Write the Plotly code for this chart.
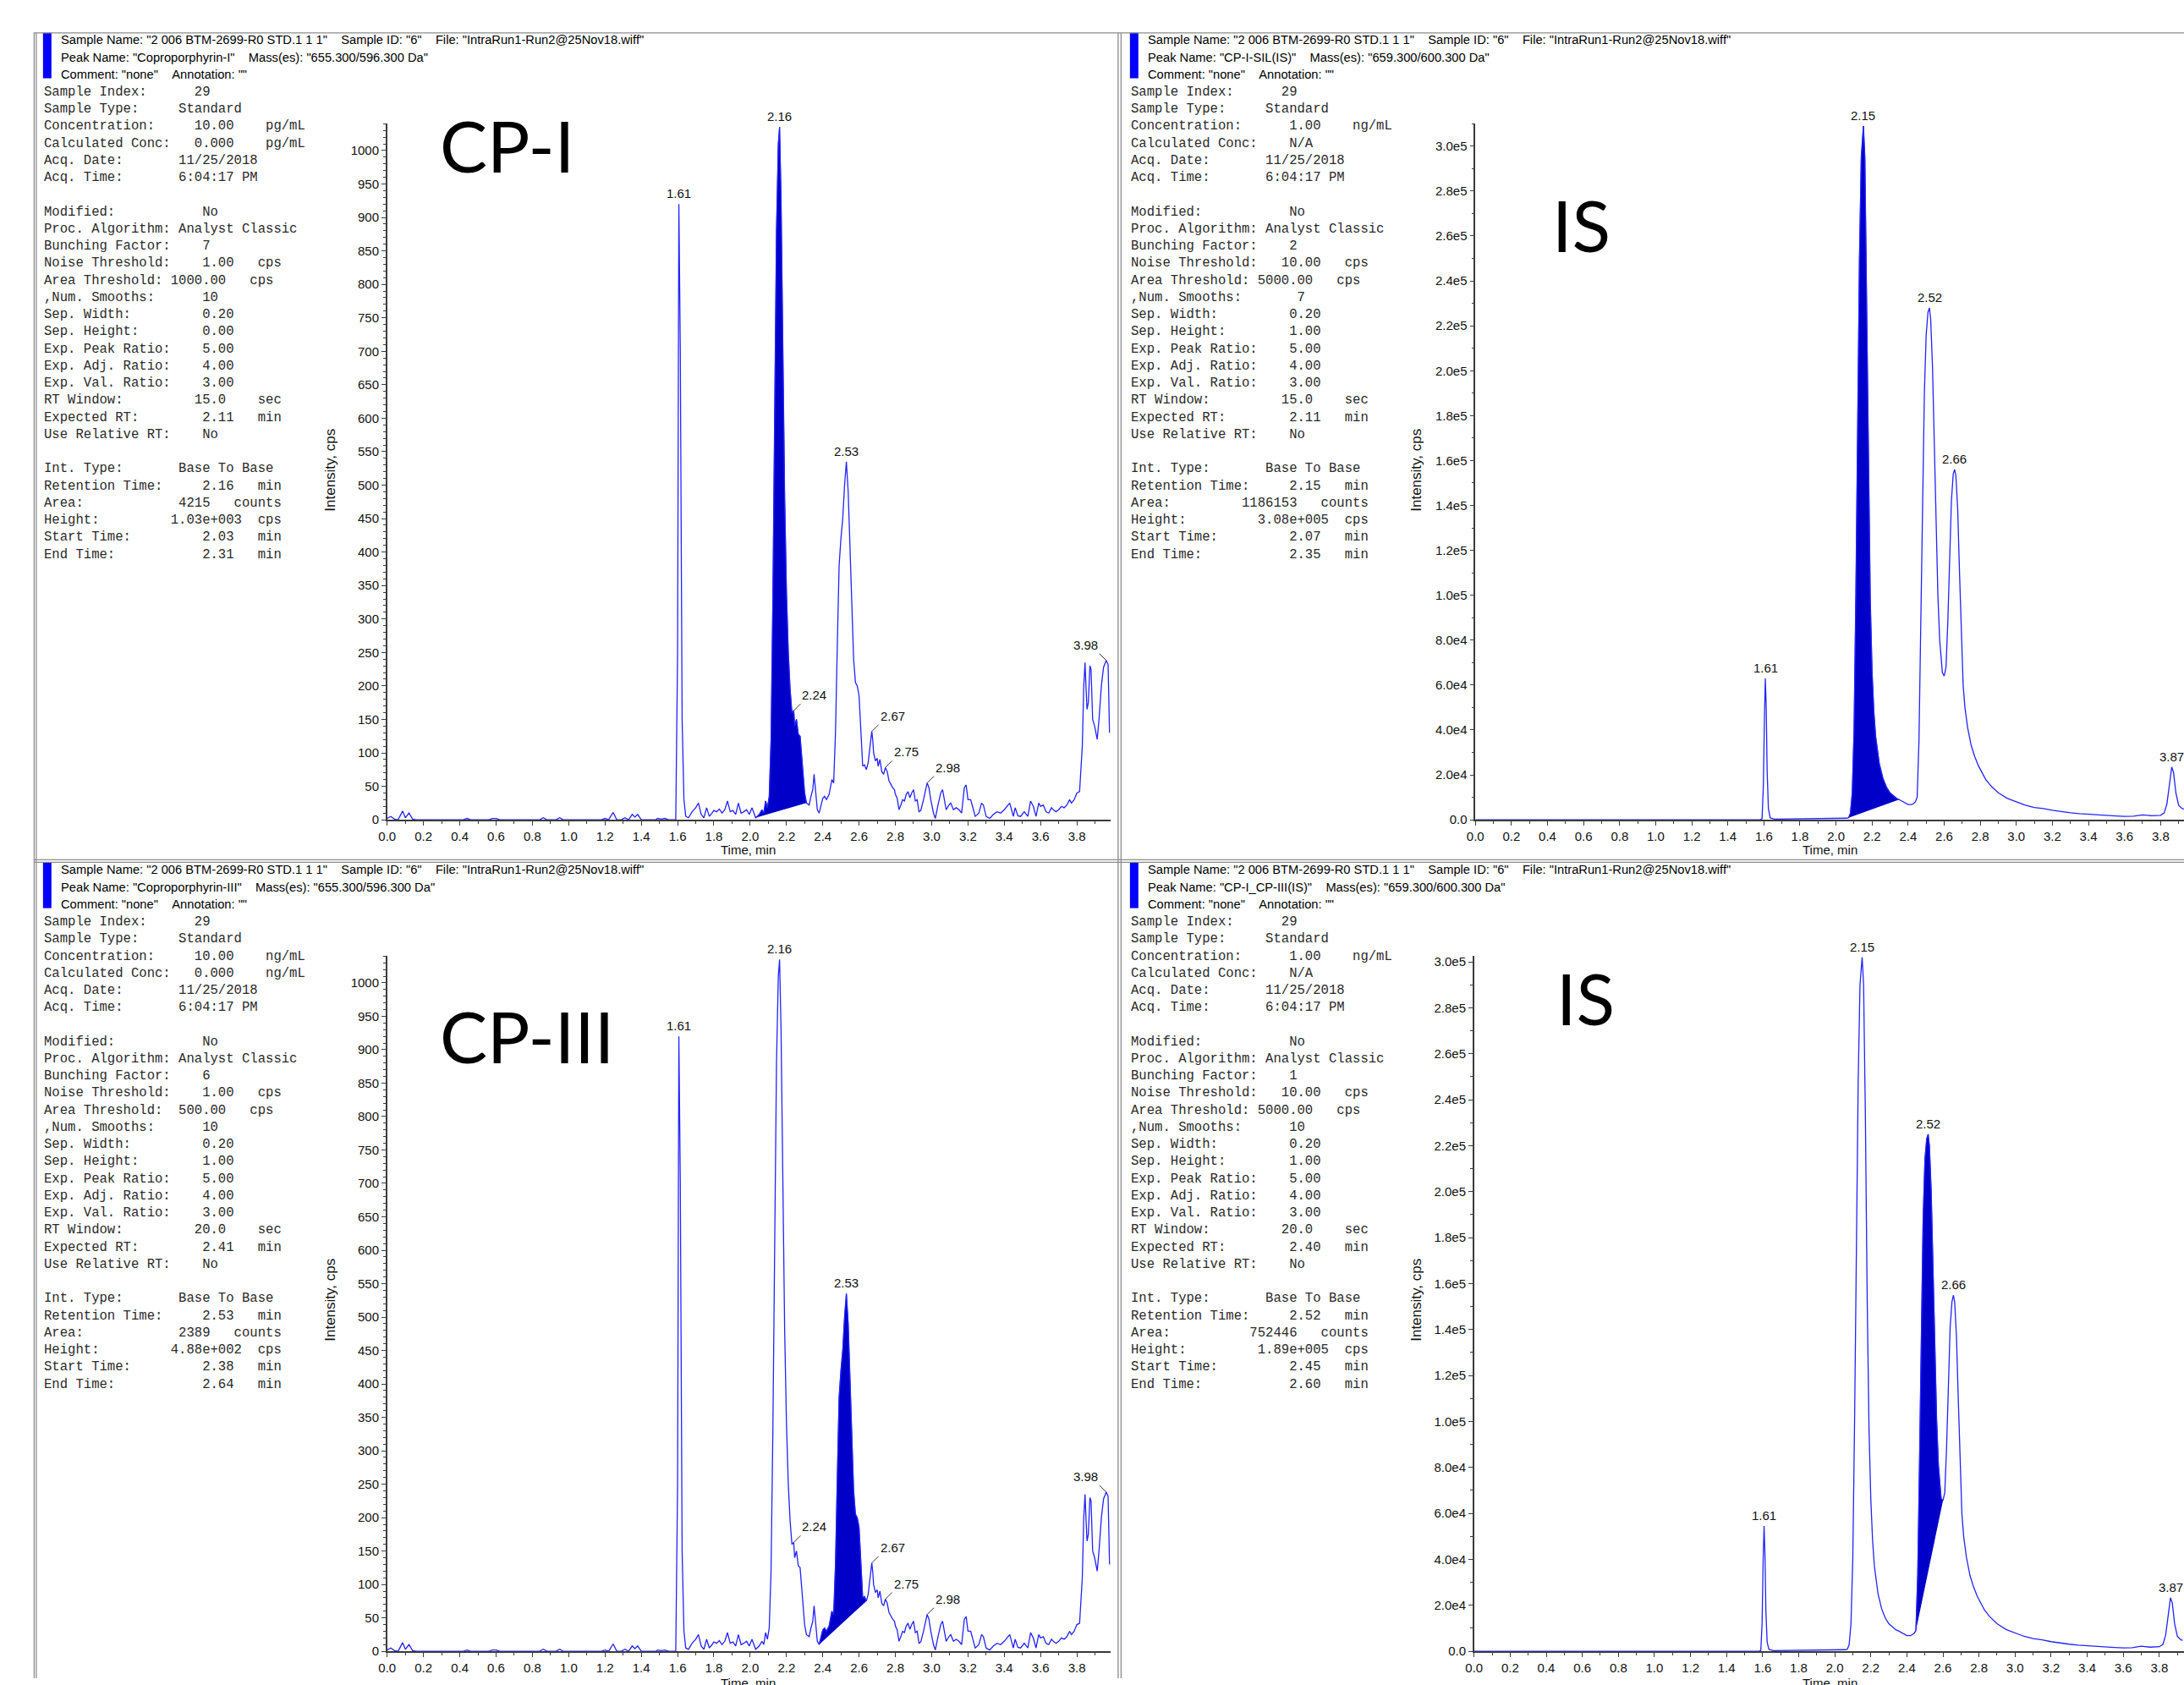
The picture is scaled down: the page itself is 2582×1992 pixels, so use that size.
import plotly.graph_objects as go

W, H = 2582, 1992

# ---------------------------------------------------------------- data
# Coproporphyrin transition 655.3/596.3 (same chromatogram used for CP-I and CP-III panels)
CP_TRACE = [
    (0.00, 2), (0.02, 5), (0.04, 1), (0.06, 0), (0.085, 13), (0.10, 3), (0.12, 10), (0.14, 1), (0.16, 0),
    (0.42, 0), (0.44, 2), (0.46, 0), (0.56, 0), (0.58, 2), (0.60, 2), (0.62, 0), (0.84, 0), (0.86, 3),
    (0.88, 0), (0.93, 0), (0.95, 3), (0.97, 0), (1.18, 0), (1.20, 2), (1.22, 0), (1.245, 11), (1.265, 0),
    (1.29, 0), (1.31, 3), (1.33, 0), (1.35, 8), (1.365, 4), (1.38, 8), (1.40, 0), (1.48, 0), (1.49, 2),
    (1.51, 1), (1.53, 2), (1.55, 0), (1.59, 0), (1.60, 250), (1.607, 920), (1.615, 700), (1.625, 150),
    (1.635, 30), (1.645, 5), (1.66, 3), (1.68, 12), (1.70, 18), (1.715, 25), (1.73, 8), (1.745, 3),
    (1.76, 18), (1.775, 5), (1.79, 10), (1.80, 14), (1.815, 12), (1.83, 16), (1.845, 10), (1.86, 15),
    (1.875, 28), (1.89, 12), (1.905, 14), (1.92, 8), (1.935, 25), (1.95, 10), (1.965, 12), (1.98, 15),
    (1.995, 8), (2.01, 18), (2.03, 3), (2.05, 8), (2.065, 15), (2.075, 10), (2.085, 28), (2.095, 18),
    (2.105, 35), (2.115, 120), (2.125, 330), (2.135, 620), (2.145, 880), (2.155, 1010), (2.162, 1035),
    (2.17, 930), (2.18, 700), (2.19, 480), (2.20, 340), (2.21, 250), (2.22, 195), (2.23, 160), (2.24, 163),
    (2.245, 140), (2.255, 150), (2.265, 128), (2.275, 125), (2.285, 90), (2.295, 55), (2.30, 40), (2.31, 25),
    (2.325, 22), (2.335, 35), (2.345, 45), (2.352, 68), (2.36, 45), (2.37, 15), (2.38, 10), (2.39, 22),
    (2.40, 32), (2.41, 35), (2.42, 30), (2.435, 38), (2.45, 60), (2.46, 55), (2.47, 130), (2.48, 260),
    (2.49, 380), (2.50, 420), (2.51, 450), (2.52, 500), (2.53, 535), (2.54, 490), (2.55, 400), (2.56, 300),
    (2.57, 240), (2.58, 205), (2.59, 200), (2.60, 185), (2.61, 130), (2.62, 80), (2.63, 82), (2.64, 75),
    (2.65, 85), (2.66, 110), (2.67, 132), (2.675, 120), (2.68, 100), (2.69, 88), (2.70, 92), (2.705, 80),
    (2.715, 90), (2.725, 72), (2.735, 68), (2.745, 78), (2.755, 72), (2.765, 58), (2.775, 52), (2.785, 48),
    (2.795, 45), (2.80, 38), (2.81, 32), (2.82, 15), (2.83, 22), (2.84, 30), (2.85, 28), (2.86, 38),
    (2.87, 42), (2.88, 33), (2.89, 40), (2.90, 45), (2.91, 28), (2.92, 30), (2.93, 12), (2.94, 14),
    (2.955, 30), (2.975, 55), (2.985, 48), (2.995, 30), (3.01, 10), (3.02, 2), (3.035, 22), (3.05, 40),
    (3.06, 45), (3.07, 30), (3.08, 15), (3.095, 22), (3.105, 25), (3.12, 15), (3.135, 18), (3.15, 15),
    (3.165, 10), (3.18, 48), (3.19, 52), (3.20, 30), (3.215, 30), (3.225, 20), (3.24, 5), (3.26, 10),
    (3.275, 25), (3.285, 22), (3.30, 5), (3.32, 2), (3.34, 8), (3.36, 12), (3.38, 10), (3.40, 15),
    (3.415, 20), (3.43, 25), (3.44, 15), (3.45, 5), (3.46, 18), (3.475, 6), (3.49, 5), (3.51, 12),
    (3.53, 5), (3.545, 28), (3.56, 20), (3.575, 5), (3.59, 25), (3.60, 20), (3.615, 22), (3.63, 12),
    (3.645, 10), (3.66, 18), (3.67, 15), (3.685, 12), (3.70, 15), (3.715, 20), (3.73, 18), (3.745, 22),
    (3.76, 30), (3.77, 25), (3.785, 30), (3.80, 40), (3.815, 42), (3.83, 110), (3.838, 200), (3.845, 235),
    (3.85, 200), (3.856, 165), (3.863, 175), (3.872, 230), (3.878, 225), (3.887, 150), (3.898, 140),
    (3.912, 120), (3.922, 150), (3.935, 200), (3.947, 228), (3.962, 238), (3.972, 232), (3.98, 130),
]

# Internal standard transition 659.3/600.3, processed with bunching 2 / 7 smooths (top right)
IS_A_TRACE = [
    (0.00, 0), (1.58, 0), (1.59, 500), (1.597, 15000), (1.603, 45000), (1.608, 63000), (1.613, 50000),
    (1.618, 22000), (1.625, 5000), (1.635, 800), (1.66, 300), (1.80, 400), (1.90, 500), (2.00, 600),
    (2.06, 700), (2.07, 900), (2.08, 3000), (2.09, 12000), (2.10, 40000), (2.11, 100000), (2.12, 180000),
    (2.13, 250000), (2.14, 295000), (2.152, 309000), (2.16, 295000), (2.17, 235000), (2.18, 155000),
    (2.19, 98000), (2.20, 66000), (2.21, 48000), (2.22, 37000), (2.23, 30000), (2.24, 25000), (2.26, 18500),
    (2.28, 14500), (2.30, 12000), (2.32, 10500), (2.34, 9300), (2.35, 9000), (2.36, 8600), (2.38, 7500),
    (2.40, 6800), (2.42, 6800), (2.43, 7200), (2.44, 8000), (2.45, 10000), (2.46, 35000), (2.47, 85000),
    (2.48, 140000), (2.49, 190000), (2.50, 216000), (2.51, 226000), (2.518, 228000), (2.525, 223000),
    (2.535, 202000), (2.545, 168000), (2.555, 130000), (2.565, 100000), (2.575, 80000), (2.585, 68000),
    (2.59, 65500), (2.60, 64000), (2.61, 68000), (2.62, 88000), (2.63, 118000), (2.64, 142000),
    (2.65, 154000), (2.658, 156000), (2.665, 153000), (2.675, 138000), (2.685, 110000), (2.695, 80000),
    (2.705, 60000), (2.715, 50000), (2.73, 41000), (2.75, 33000), (2.77, 28000), (2.79, 24000),
    (2.81, 21000), (2.83, 18000), (2.86, 15000), (2.90, 12000), (2.95, 9500), (3.00, 8000), (3.05, 6500),
    (3.10, 5500), (3.15, 5000), (3.20, 4200), (3.25, 3600), (3.30, 3100), (3.35, 2700), (3.40, 2400),
    (3.45, 2200), (3.50, 1900), (3.55, 1700), (3.60, 1500), (3.65, 1600), (3.70, 2200), (3.75, 1800),
    (3.80, 2000), (3.82, 3000), (3.835, 7000), (3.85, 16000), (3.862, 23500), (3.872, 21000),
    (3.885, 12000), (3.90, 6500), (3.92, 5000), (3.93, 4800),
]

# Internal standard transition 659.3/600.3, processed with bunching 1 / 10 smooths (bottom right)
IS_B_TRACE = [
    (0.00, 0), (1.58, 0), (1.59, 400), (1.597, 12000), (1.603, 40000), (1.608, 54500), (1.613, 42000),
    (1.618, 18000), (1.625, 4000), (1.635, 800), (1.66, 300), (1.80, 400), (1.90, 500), (2.00, 600),
    (2.06, 700), (2.07, 900), (2.08, 3000), (2.09, 12000), (2.10, 40000), (2.11, 100000), (2.12, 178000),
    (2.13, 248000), (2.14, 290000), (2.152, 302000), (2.16, 290000), (2.17, 232000), (2.18, 153000),
    (2.19, 97000), (2.20, 66000), (2.21, 48000), (2.22, 37000), (2.23, 30000), (2.24, 25000), (2.26, 18500),
    (2.28, 14500), (2.30, 12000), (2.32, 10500), (2.34, 9300), (2.35, 9000), (2.36, 8600), (2.38, 7500),
    (2.40, 6800), (2.42, 6800), (2.43, 7200), (2.44, 7800), (2.45, 9000), (2.46, 33000), (2.47, 82000),
    (2.48, 138000), (2.49, 188000), (2.50, 214000), (2.51, 223000), (2.518, 225000), (2.525, 220000),
    (2.535, 200000), (2.545, 167000), (2.555, 130000), (2.565, 101000), (2.575, 81000), (2.585, 70000),
    (2.59, 66500), (2.60, 65500), (2.61, 69000), (2.62, 88000), (2.63, 117000), (2.64, 141000),
    (2.65, 152000), (2.658, 155000), (2.665, 152000), (2.675, 137000), (2.685, 110000), (2.695, 80000),
    (2.705, 60000), (2.715, 50000), (2.73, 41000), (2.75, 33000), (2.77, 28000), (2.79, 24000),
    (2.81, 21000), (2.83, 18000), (2.86, 15000), (2.90, 12000), (2.95, 9500), (3.00, 8000), (3.05, 6500),
    (3.10, 5500), (3.15, 5000), (3.20, 4200), (3.25, 3600), (3.30, 3100), (3.35, 2700), (3.40, 2400),
    (3.45, 2200), (3.50, 1900), (3.55, 1700), (3.60, 1500), (3.65, 1600), (3.70, 2200), (3.75, 1800),
    (3.80, 2000), (3.82, 3000), (3.835, 7000), (3.85, 16000), (3.862, 23300), (3.872, 21000),
    (3.885, 12000), (3.90, 6500), (3.92, 5000), (3.93, 4800),
]

CP_PEAK_LABELS = ["1.61", "2.16", "2.24", "2.53", "2.67", "2.75", "2.98", "3.98"]
CP_PEAK_TIMES = [1.607, 2.162, 2.24, 2.53, 2.67, 2.745, 2.975, 3.962]
CP_PEAK_LEADERS = [0, 0, 1, 0, 1, 1, 1, -1]
IS_PEAK_LABELS = ["1.61", "2.15", "2.52", "2.66", "3.87"]
IS_PEAK_TIMES = [1.608, 2.152, 2.518, 2.658, 3.862]

X_TICKS = [0.0, 0.2, 0.4, 0.6, 0.8, 1.0, 1.2, 1.4, 1.6, 1.8, 2.0, 2.2, 2.4, 2.6, 2.8, 3.0, 3.2, 3.4, 3.6, 3.8]
X_TICKTEXT = ["0.0", "0.2", "0.4", "0.6", "0.8", "1.0", "1.2", "1.4", "1.6", "1.8",
              "2.0", "2.2", "2.4", "2.6", "2.8", "3.0", "3.2", "3.4", "3.6", "3.8"]
CP_Y_TICKS = [0, 50, 100, 150, 200, 250, 300, 350, 400, 450, 500, 550, 600, 650, 700, 750, 800, 850, 900, 950, 1000]
IS_Y_TICKS = [0, 20000, 40000, 60000, 80000, 100000, 120000, 140000, 160000, 180000, 200000,
              220000, 240000, 260000, 280000, 300000]
IS_Y_TICKTEXT = ["0.0", "2.0e4", "4.0e4", "6.0e4", "8.0e4", "1.0e5", "1.2e5", "1.4e5", "1.6e5", "1.8e5",
                 "2.0e5", "2.2e5", "2.4e5", "2.6e5", "2.8e5", "3.0e5"]

CPI_WINDOW = (2.03, 2.31)
CPIII_WINDOW = (2.38, 2.64)
ISA_WINDOW = (2.07, 2.35)
ISB_WINDOW = (2.45, 2.60)

SAMPLE_LINE = 'Sample Name: "2 006 BTM-2699-R0 STD.1 1 1"    Sample ID: "6"    File: "IntraRun1-Run2@25Nov18.wiff"'
COMMENT_LINE = 'Comment: "none"    Annotation: ""'
PEAK_TL = 'Peak Name: "Coproporphyrin-I"    Mass(es): "655.300/596.300 Da"'
PEAK_TR = 'Peak Name: "CP-I-SIL(IS)"    Mass(es): "659.300/600.300 Da"'
PEAK_BL = 'Peak Name: "Coproporphyrin-III"    Mass(es): "655.300/596.300 Da"'
PEAK_BR = 'Peak Name: "CP-I_CP-III(IS)"    Mass(es): "659.300/600.300 Da"'

INFO_TL = [
    ("Sample Index:", "29", 19), ("Sample Type:", "Standard", 17),
    ("Concentration:", "10.00", 19, "pg/mL", 28), ("Calculated Conc:", "0.000", 19, "pg/mL", 28),
    ("Acq. Date:", "11/25/2018", 17), ("Acq. Time:", "6:04:17 PM", 17), None,
    ("Modified:", "No", 20), ("Proc. Algorithm:", "Analyst Classic", 17), ("Bunching Factor:", "7", 20),
    ("Noise Threshold:", "1.00", 20, "cps", 27), ("Area Threshold:", "1000.00", 16, "cps", 26),
    (",Num. Smooths:", "10", 20), ("Sep. Width:", "0.20", 20), ("Sep. Height:", "0.00", 20),
    ("Exp. Peak Ratio:", "5.00", 20), ("Exp. Adj. Ratio:", "4.00", 20), ("Exp. Val. Ratio:", "3.00", 20),
    ("RT Window:", "15.0", 19, "sec", 27), ("Expected RT:", "2.11", 20, "min", 27),
    ("Use Relative RT:", "No", 20), None,
    ("Int. Type:", "Base To Base", 17), ("Retention Time:", "2.16", 20, "min", 27),
    ("Area:", "4215", 17, "counts", 24), ("Height:", "1.03e+003", 16, "cps", 27),
    ("Start Time:", "2.03", 20, "min", 27), ("End Time:", "2.31", 20, "min", 27),
]
INFO_TR = [
    ("Sample Index:", "29", 19), ("Sample Type:", "Standard", 17),
    ("Concentration:", "1.00", 20, "ng/mL", 28), ("Calculated Conc:", "N/A", 20),
    ("Acq. Date:", "11/25/2018", 17), ("Acq. Time:", "6:04:17 PM", 17), None,
    ("Modified:", "No", 20), ("Proc. Algorithm:", "Analyst Classic", 17), ("Bunching Factor:", "2", 20),
    ("Noise Threshold:", "10.00", 19, "cps", 27), ("Area Threshold:", "5000.00", 16, "cps", 26),
    (",Num. Smooths:", "7", 21), ("Sep. Width:", "0.20", 20), ("Sep. Height:", "1.00", 20),
    ("Exp. Peak Ratio:", "5.00", 20), ("Exp. Adj. Ratio:", "4.00", 20), ("Exp. Val. Ratio:", "3.00", 20),
    ("RT Window:", "15.0", 19, "sec", 27), ("Expected RT:", "2.11", 20, "min", 27),
    ("Use Relative RT:", "No", 20), None,
    ("Int. Type:", "Base To Base", 17), ("Retention Time:", "2.15", 20, "min", 27),
    ("Area:", "1186153", 14, "counts", 24), ("Height:", "3.08e+005", 16, "cps", 27),
    ("Start Time:", "2.07", 20, "min", 27), ("End Time:", "2.35", 20, "min", 27),
]
INFO_BL = [
    ("Sample Index:", "29", 19), ("Sample Type:", "Standard", 17),
    ("Concentration:", "10.00", 19, "ng/mL", 28), ("Calculated Conc:", "0.000", 19, "ng/mL", 28),
    ("Acq. Date:", "11/25/2018", 17), ("Acq. Time:", "6:04:17 PM", 17), None,
    ("Modified:", "No", 20), ("Proc. Algorithm:", "Analyst Classic", 17), ("Bunching Factor:", "6", 20),
    ("Noise Threshold:", "1.00", 20, "cps", 27), ("Area Threshold:", "500.00", 17, "cps", 26),
    (",Num. Smooths:", "10", 20), ("Sep. Width:", "0.20", 20), ("Sep. Height:", "1.00", 20),
    ("Exp. Peak Ratio:", "5.00", 20), ("Exp. Adj. Ratio:", "4.00", 20), ("Exp. Val. Ratio:", "3.00", 20),
    ("RT Window:", "20.0", 19, "sec", 27), ("Expected RT:", "2.41", 20, "min", 27),
    ("Use Relative RT:", "No", 20), None,
    ("Int. Type:", "Base To Base", 17), ("Retention Time:", "2.53", 20, "min", 27),
    ("Area:", "2389", 17, "counts", 24), ("Height:", "4.88e+002", 16, "cps", 27),
    ("Start Time:", "2.38", 20, "min", 27), ("End Time:", "2.64", 20, "min", 27),
]
INFO_BR = [
    ("Sample Index:", "29", 19), ("Sample Type:", "Standard", 17),
    ("Concentration:", "1.00", 20, "ng/mL", 28), ("Calculated Conc:", "N/A", 20),
    ("Acq. Date:", "11/25/2018", 17), ("Acq. Time:", "6:04:17 PM", 17), None,
    ("Modified:", "No", 20), ("Proc. Algorithm:", "Analyst Classic", 17), ("Bunching Factor:", "1", 20),
    ("Noise Threshold:", "10.00", 19, "cps", 27), ("Area Threshold:", "5000.00", 16, "cps", 26),
    (",Num. Smooths:", "10", 20), ("Sep. Width:", "0.20", 20), ("Sep. Height:", "1.00", 20),
    ("Exp. Peak Ratio:", "5.00", 20), ("Exp. Adj. Ratio:", "4.00", 20), ("Exp. Val. Ratio:", "3.00", 20),
    ("RT Window:", "20.0", 19, "sec", 27), ("Expected RT:", "2.40", 20, "min", 27),
    ("Use Relative RT:", "No", 20), None,
    ("Int. Type:", "Base To Base", 17), ("Retention Time:", "2.52", 20, "min", 27),
    ("Area:", "752446", 15, "counts", 24), ("Height:", "1.89e+005", 16, "cps", 27),
    ("Start Time:", "2.45", 20, "min", 27), ("End Time:", "2.60", 20, "min", 27),
]

BIG_TL, BIG_TR, BIG_BL, BIG_BR = "CP-I", "IS", "CP-III", "IS"

# ---------------------------------------------------------------- style / helpers
SANS = "Liberation Sans, Arial, sans-serif"
MONO = "Liberation Mono, Courier New, monospace"
BIG = "Lato, Carlito, Open Sans, sans-serif"
AX = "#3a3a3a"
LINE_BLUE = "#2323ff"
FILL_BLUE = "#0000c8"
BORDER = "#8c8c8c"


def fx(x):
    return x / W


def fy(y):
    return 1 - y / H


def nb(s):
    return s.replace(" ", "\u00a0")


def info_line(item):
    if item is None:
        return ""
    s = item[0]
    if len(item) >= 3:
        s = s.ljust(item[2]) + item[1]
    if len(item) >= 5:
        s = s.ljust(item[4]) + item[3]
    return s


fig = go.Figure()
annotations = []
shapes = []

panels = [
    dict(n="", tr=CP_TRACE, win=CPI_WINDOW, lab=CP_PEAK_LABELS, lt=CP_PEAK_TIMES, ll=CP_PEAK_LEADERS,
         x0=449.5, ppm=215.4, xmax=3.985, y0=972, y1=145, ymax=1040,
         yt=CP_Y_TICKS, ytt=[str(v) for v in CP_Y_TICKS], ymin=10,
         info=INFO_TL, head=[SAMPLE_LINE, PEAK_TL, COMMENT_LINE], left=41, top=37,
         big=BIG_TL, bigx=510, bigcap=(135, 201), ytitle=(382, 557), xtitle=(878, 1008)),
    dict(n="2", tr=IS_A_TRACE, win=ISA_WINDOW, lab=IS_PEAK_LABELS, lt=IS_PEAK_TIMES, ll=[0] * 5,
         x0=1741, ppm=214.0, xmax=None, y0=972, y1=145, ymax=3.10e5,
         yt=IS_Y_TICKS, ytt=IS_Y_TICKTEXT, ymin=10000,
         info=INFO_TR, head=[SAMPLE_LINE, PEAK_TR, COMMENT_LINE], left=1331, top=37,
         big=BIG_TR, bigx=1830, bigcap=(230, 296), ytitle=(1671, 557), xtitle=(2162, 1008)),
    dict(n="3", tr=CP_TRACE, win=CPIII_WINDOW, lab=CP_PEAK_LABELS, lt=CP_PEAK_TIMES, ll=CP_PEAK_LEADERS,
         x0=449.5, ppm=215.4, xmax=3.985, y0=1960, y1=1134, ymax=1040,
         yt=CP_Y_TICKS, ytt=[str(v) for v in CP_Y_TICKS], ymin=10,
         info=INFO_BL, head=[SAMPLE_LINE, PEAK_BL, COMMENT_LINE], left=41, top=1023,
         big=BIG_BL, bigx=510, bigcap=(1192, 1261), ytitle=(382, 1543), xtitle=(878, 1998)),
    dict(n="4", tr=IS_B_TRACE, win=ISB_WINDOW, lab=IS_PEAK_LABELS, lt=IS_PEAK_TIMES, ll=[0] * 5,
         x0=1739.5, ppm=214.0, xmax=None, y0=1960, y1=1134, ymax=3.025e5,
         yt=IS_Y_TICKS, ytt=IS_Y_TICKTEXT, ymin=10000,
         info=INFO_BR, head=[SAMPLE_LINE, PEAK_BR, COMMENT_LINE], left=1331, top=1023,
         big=BIG_BR, bigx=1835, bigcap=(1148, 1214), ytitle=(1671, 1543), xtitle=(2162, 1998)),
]

TICKFONT = dict(family=SANS, size=15, color="#111")
LABELFONT = dict(family=SANS, size=15, color="#111")

for p in panels:
    xn, yn = "x" + p["n"], "y" + p["n"]
    ts = [a for a, b in p["tr"]]
    vs = [b for a, b in p["tr"]]
    if p["xmax"] is None:
        xmax = (W - p["x0"]) / p["ppm"]
        x1 = W
    else:
        xmax = p["xmax"]
        x1 = p["x0"] + xmax * p["ppm"]

    # integrated peak area (Base To Base): curve segment closed by a straight baseline
    a, b = p["win"]
    seg = [(t, v) for t, v in zip(ts, vs) if a - 1e-9 <= t <= b + 1e-9]
    fig.add_trace(go.Scatter(x=[s[0] for s in seg], y=[s[1] for s in seg], mode="lines", fill="toself",
                             fillcolor=FILL_BLUE, line=dict(color=FILL_BLUE, width=0.8),
                             xaxis=xn, yaxis=yn, showlegend=False, hoverinfo="skip"))
    fig.add_trace(go.Scatter(x=ts, y=vs, mode="lines", line=dict(color=LINE_BLUE, width=1.3),
                             xaxis=xn, yaxis=yn, showlegend=False))

    common = dict(showline=True, linecolor=AX, linewidth=1.5, ticks="outside", ticklen=5, tickwidth=1.2,
                  tickcolor=AX, showgrid=False, zeroline=False, fixedrange=True,
                  tickfont=TICKFONT, layer="below traces")
    fig.layout["xaxis" + p["n"]] = dict(
        domain=[fx(p["x0"]), fx(x1)], range=[0, xmax], anchor=yn,
        tickmode="array", tickvals=X_TICKS, ticktext=X_TICKTEXT,
        minor=dict(ticks="outside", ticklen=3, tickwidth=1, tickcolor=AX, tick0=0, dtick=0.1, showgrid=False),
        **common)
    fig.layout["yaxis" + p["n"]] = dict(
        domain=[fy(p["y0"]), fy(p["y1"])], range=[0, p["ymax"]], anchor=xn,
        tickmode="array", tickvals=p["yt"], ticktext=p["ytt"],
        minor=dict(ticks="outside", ticklen=3, tickwidth=1, tickcolor=AX, tick0=0, dtick=p["ymin"], showgrid=False),
        **common)

    # peak labels
    for lab, t0, lead in zip(p["lab"], p["lt"], p["ll"]):
        yv = max(v for t, v in zip(ts, vs) if abs(t - t0) <= 0.008)
        tv = [t for t, v in zip(ts, vs) if abs(t - t0) <= 0.008 and v == yv][0]
        base = dict(x=tv, y=yv, xref=xn, yref=yn, text=lab, font=LABELFONT)
        if lead == 0:
            annotations.append(dict(base, showarrow=False, yanchor="bottom", xanchor="center", yshift=2))
        else:
            annotations.append(dict(base, showarrow=True, arrowhead=0, arrowwidth=1, arrowcolor="#333",
                                    ax=8 * lead, ay=-8, axref="pixel", ayref="pixel", standoff=0,
                                    xanchor="left" if lead > 0 else "right", yanchor="bottom"))

    # header (proportional font) and blue bar
    for i, txt in enumerate(p["head"]):
        annotations.append(dict(x=fx(p["left"] + 19), y=fy(p["top"] + 8.5 + 20.5 * i), xref="paper", yref="paper",
                                text=nb(txt), showarrow=False, xanchor="left", yanchor="middle",
                                font=dict(family=SANS, size=14.7, color="#000")))
    shapes.append(dict(type="rect", xref="paper", yref="paper", x0=fx(p["left"]), x1=fx(p["left"] + 10),
                       y0=fy(p["top"]), y1=fy(p["top"] + 54), fillcolor="#0000ff", line=dict(width=0)))

    # processing info block (monospace)
    for i, item in enumerate(p["info"]):
        s = info_line(item)
        if not s:
            continue
        annotations.append(dict(x=fx(p["left"] - 1), y=fy(p["top"] + 70.5 + 20.35 * i), xref="paper", yref="paper",
                                text=nb(s), showarrow=False, xanchor="left", yanchor="middle",
                                font=dict(family=MONO, size=15.6, color="#2a2a2a")))

    # big overlay label
    annotations.append(dict(x=fx(p["bigx"]), y=fy((p["bigcap"][0] + p["bigcap"][1]) / 2 + 2), xref="paper",
                            yref="paper", text=p["big"], showarrow=False, xanchor="left", yanchor="middle",
                            font=dict(family=BIG, size=84, color="#000")))
    # axis titles
    annotations.append(dict(x=fx(p["ytitle"][0]), y=fy(p["ytitle"][1]), xref="paper", yref="paper",
                            text="Intensity, cps", textangle=-90, showarrow=False, xanchor="center", yanchor="middle",
                            font=dict(family=SANS, size=17, color="#111")))
    annotations.append(dict(x=fx(p["xtitle"][0]), y=fy(p["xtitle"][1]), xref="paper", yref="paper",
                            text="Time, min", showarrow=False, xanchor="center", yanchor="middle",
                            font=dict(family=SANS, size=15, color="#111")))


# panel frame lines
def hline(y, x0, x1, w=1.3):
    shapes.append(dict(type="line", xref="paper", yref="paper", x0=fx(x0), x1=fx(x1), y0=fy(y), y1=fy(y),
                       line=dict(color=BORDER, width=w)))


def vline(x, y0, y1, w=1.3):
    shapes.append(dict(type="line", xref="paper", yref="paper", x0=fx(x), x1=fx(x), y0=fy(y0), y1=fy(y1),
                       line=dict(color=BORDER, width=w)))


hline(37, 30, W)
hline(1019.5, 30, W)
hline(1022.5, 30, W)
vline(30.5, 37, H)
vline(33, 37, H)
vline(1317, 37, H)
vline(1320.5, 37, H)

fig.update_layout(width=W, height=H, margin=dict(l=0, r=0, t=0, b=0), paper_bgcolor="white",
                  plot_bgcolor="white", showlegend=False, annotations=annotations, shapes=shapes)
fig.write_html("out.html", config={"displayModeBar": False},
               post_script="document.body.style.margin='0px';document.body.style.overflow='hidden';")
